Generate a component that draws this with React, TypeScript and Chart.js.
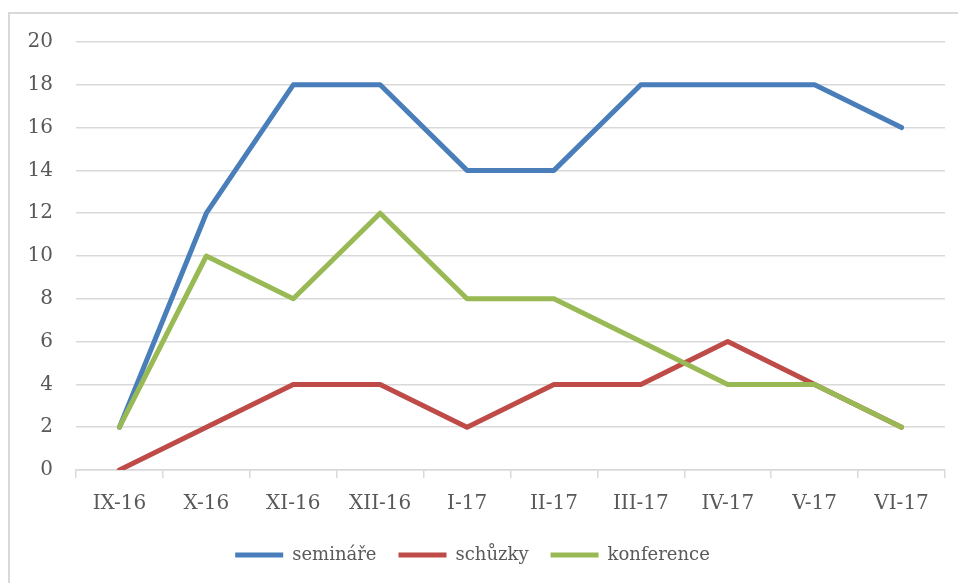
import React, { useEffect, useRef } from "react";
import { Chart, registerables } from "chart.js";

Chart.register(...registerables);

const categories = ["IX-16", "X-16", "XI-16", "XII-16", "I-17", "II-17", "III-17", "IV-17", "V-17", "VI-17"];
const seminare = [2, 12, 18, 18, 14, 14, 18, 18, 18, 16];
const schuzky = [0, 2, 4, 4, 2, 4, 4, 6, 4, 2];
const konference = [2, 10, 8, 12, 8, 8, 6, 4, 4, 2];
const seriesNames = ["semináře", "schůzky", "konference"];

const FONT = "'DejaVu Serif', serif";
const TEXT = "#595959";
const GRID = "#d9d9d9";

export default function App() {
  const ref = useRef<HTMLCanvasElement>(null);
  useEffect(() => {
    const ctx = ref.current!;
    const mk = (label: string, data: number[], color: string, order: number) => ({
      label,
      data,
      borderColor: color,
      backgroundColor: color,
      borderWidth: 5,
      pointRadius: 0,
      pointHoverRadius: 0,
      borderCapStyle: "round" as const,
      borderJoinStyle: "round" as const,
      tension: 0,
      order,
    });
    const chart = new Chart(ctx, {
      type: "line",
      data: {
        labels: categories,
        datasets: [
          mk(seriesNames[0], seminare, "#4A7EBB", 3),
          mk(seriesNames[1], schuzky, "#BE4B48", 2),
          mk(seriesNames[2], konference, "#98B954", 1),
        ],
      },
      options: {
        animation: false,
        responsive: false,
        maintainAspectRatio: false,
        layout: { padding: { top: 42, right: 13, left: 0, bottom: 9 } },
        plugins: {
          tooltip: { enabled: false },
          legend: {
            position: "bottom",
            labels: {
              color: TEXT,
              font: { family: FONT, size: 18 },
              usePointStyle: true,
              pointStyle: "line",
              pointStyleWidth: 48,
              boxHeight: 18,
              padding: 22,
              sort: (a: any, b: any) => a.datasetIndex - b.datasetIndex,
            },
          },
        },
        scales: {
          x: {
            offset: true,
            grid: {
              offset: true,
              drawOnChartArea: false,
              drawTicks: true,
              tickLength: 8,
              color: GRID,
              lineWidth: 1.5,
            },
            border: { display: true, color: GRID, width: 1.5 },
            ticks: { color: TEXT, font: { family: FONT, size: 20 }, padding: 14, maxRotation: 0, autoSkip: false },
            afterFit: (s: any) => { s.height = 54; },
          },
          y: {
            min: 0,
            max: 20,
            ticks: { stepSize: 2, color: TEXT, font: { family: FONT, size: 20 }, padding: 23 },
            grid: { color: GRID, lineWidth: 1.5, drawTicks: false },
            border: { display: false },
            afterFit: (s: any) => { s.width = 76; },
          },
        },
      },
    });
    return () => chart.destroy();
  }, []);
  return (
    <div style={{ position: "fixed", left: 0, top: 0, width: 958, height: 583, overflow: "hidden", background: "#fff" }}>
      <div style={{ position: "absolute", left: 8, top: 12, width: 1100, height: 1100, border: "2px solid #d9d9d9", boxSizing: "border-box" }} />
      <canvas ref={ref} width={958} height={583} style={{ position: "absolute", left: 0, top: 0 }} />
    </div>
  );
}
